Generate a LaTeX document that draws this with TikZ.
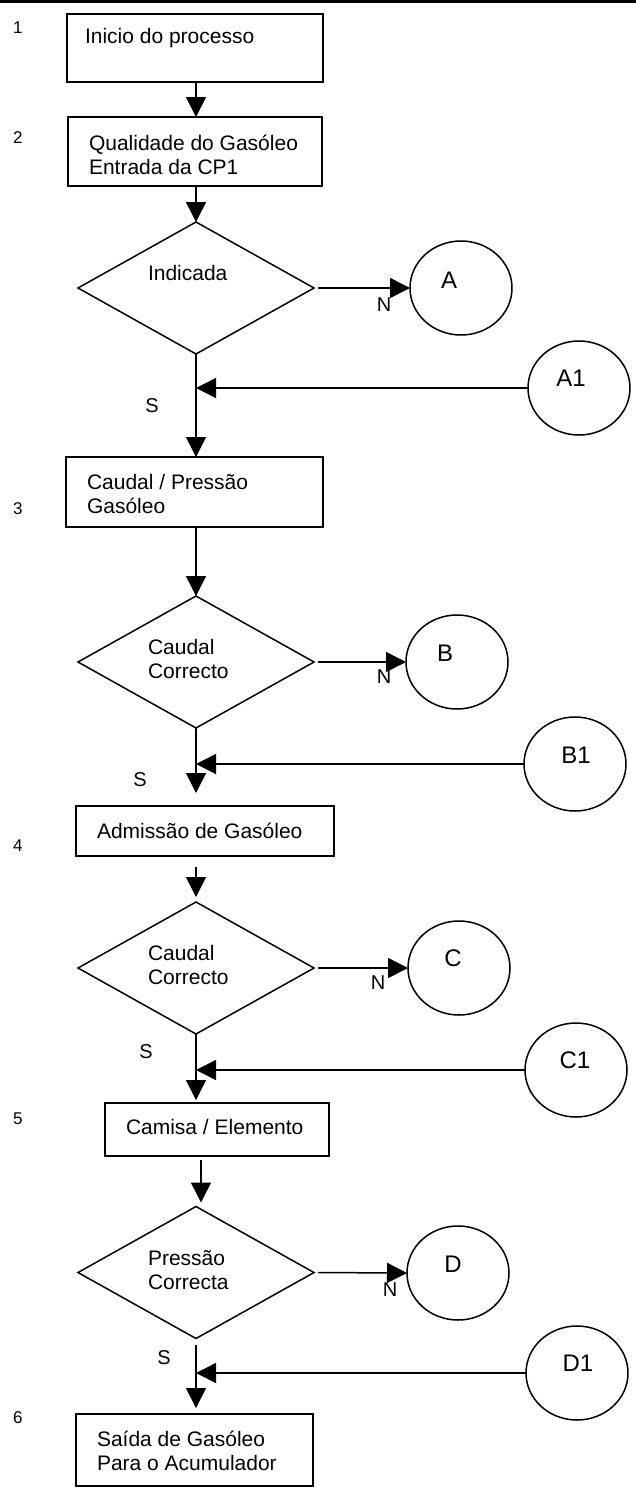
\documentclass[tikz,border=0pt]{standalone}
\usepackage{fontspec}
\setmainfont{Liberation Sans}
\usetikzlibrary{arrows.meta,shapes.geometric,calc}
\begin{document}
\begin{tikzpicture}[x=1pt,y=-1pt,
  line width=1.5pt,
  every node/.style={inner sep=0pt, outer sep=0pt},
  stepbox/.style={draw, rectangle, line width=1.5pt},
  decision/.style={draw, diamond, line width=1.5pt, minimum width=236pt, minimum height=132pt},
  connector/.style={draw, ellipse, line width=1.5pt, minimum width=102pt, minimum height=94pt},
  txt/.style={font=\fontsize{21}{24}\selectfont, anchor=base west, align=left},
  num/.style={font=\fontsize{17}{20}\selectfont, anchor=base west},
  yn/.style={font=\fontsize{20}{23}\selectfont},
  conlabel/.style={font=\fontsize{24}{28}\selectfont},
  flow/.style={-{Triangle[length=20pt,width=20pt]}, line width=1.5pt},
]
\useasboundingbox (0,0) rectangle (636,1488);

% rule across the top of the page
\fill (0,0) rectangle (636,3);

% process steps
\node[stepbox, minimum width=256pt, minimum height=68pt] (b1) at (195,48) {};
\node[stepbox, minimum width=254pt, minimum height=69pt] (b2) at (195,151.5) {};
\node[stepbox, minimum width=257pt, minimum height=70pt] (b3) at (194.5,492) {};
\node[stepbox, minimum width=258pt, minimum height=50pt] (b4) at (205,831) {};
\node[stepbox, minimum width=224pt, minimum height=53pt] (b5) at (217,1129.5) {};
\node[stepbox, minimum width=237pt, minimum height=72pt] (b6) at (194.5,1450) {};

% decisions
\node[decision] (d1) at (196,288) {};
\node[decision] (d2) at (196,662) {};
\node[decision] (d3) at (196,968) {};
\node[decision] (d4) at (196,1272.5) {};

% off-page connectors
\node[connector] (cA) at (461,288) {};
\node[connector] (cA1) at (579,388) {};
\node[connector] (cB) at (457,662) {};
\node[connector] (cB1) at (575,764) {};
\node[connector] (cC) at (459,968) {};
\node[connector] (cC1) at (576,1070) {};
\node[connector] (cD) at (458,1273) {};
\node[connector] (cD1) at (577,1373) {};

% step numbers
\node[num] (n1) at (13,34) {1};
\node[num] (n2) at (13,143) {2};
\node[num] (n3) at (13,514) {3};
\node[num] (n4) at (13,851) {4};
\node[num] (n5) at (13,1124) {5};
\node[num] (n6) at (13,1423) {6};

% step texts (base anchor = baseline of the last line)
\node[txt] (t1) at (85,44) {Inicio do processo};
\node[txt] (t2) at (89,174) {Qualidade do Gasóleo\\Entrada da CP1};
\node[txt] (t3) at (87,513) {Caudal / Pressão\\Gasóleo};
\node[txt] (t4) at (97,838) {Admissão de Gasóleo};
\node[txt] (t5) at (126,1134) {Camisa / Elemento};
\node[txt] (t6) at (97,1470) {Saída de Gasóleo\\Para o Acumulador};

% decision texts
\node[txt] (q1) at (148,280) {Indicada};
\node[txt] (q2) at (148,678) {Caudal\\Correcto};
\node[txt] (q3) at (148,984) {Caudal\\Correcto};
\node[txt] (q4) at (148,1289) {Pressão\\Correcta};

% connector letters
\node[conlabel] (lA) at (449,280) {A};
\node[conlabel] (lA1) at (571,378) {A1};
\node[conlabel] (lB) at (445,653) {B};
\node[conlabel] (lB1) at (576,755) {B1};
\node[conlabel] (lC) at (453,958) {C};
\node[conlabel] (lC1) at (575,1060) {C1};
\node[conlabel] (lD) at (453,1264) {D};
\node[conlabel] (lD1) at (578,1363) {D1};

% yes / no answers
\node[yn] (nA) at (384,305) {N};
\node[yn] (nB) at (384,677) {N};
\node[yn] (nC) at (378,983) {N};
\node[yn] (nD) at (390,1290) {N};
\node[yn] (sA) at (152,406) {S};
\node[yn] (sB) at (140,780) {S};
\node[yn] (sC) at (146,1052) {S};
\node[yn] (sD) at (164,1358) {S};

% flow lines
\draw[flow] (b1.south -| d1.north) -- (b2.north -| d1.north);
\draw[flow] (b2.south -| d1.north) -- (d1.north);
\draw[flow, shorten <=4pt] (d1.east) -- (cA.west);
\draw[flow] (d1.south) -- (d1.south |- b3.north);
\draw[flow] (cA1.west) -- (cA1.west -| d1.south);

\draw[flow] (b3.south -| d2.north) -- (d2.north);
\draw[flow, shorten <=4pt] (d2.east) -- (cB.west);
\draw[flow, shorten >=13pt] (d2.south) -- (d2.south |- b4.north);
\draw[flow] (cB1.west) -- (cB1.west -| d2.south);

\draw[flow, shorten <=11pt, shorten >=5pt] (b4.south -| d3.north) -- (d3.north);
\draw[flow, shorten <=4pt] (d3.east) -- (cC.west);
\draw[flow, shorten >=3pt] (d3.south) -- (d3.south |- b5.north);
\draw[flow] (cC1.west) -- (cC1.west -| d3.south);

\coordinate (m4) at ($(d4.north)+(5,0)$);
\draw[flow, shorten <=4pt, shorten >=4pt] (b5.south -| m4) -- (m4);
\draw[flow, shorten <=4pt] (d4.east) -- (cD.west);
\draw[flow, shorten <=6pt, shorten >=6pt] (d4.south) -- (d4.south |- b6.north);
\draw[flow] (cD1.west) -- (cD1.west -| d4.south);
\end{tikzpicture}
\end{document}
